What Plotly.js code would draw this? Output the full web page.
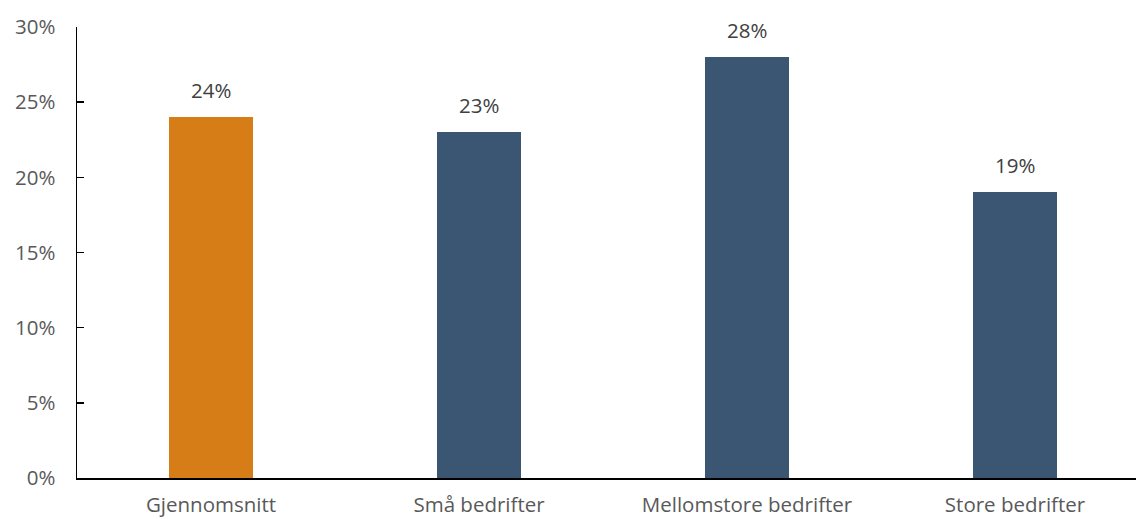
<!DOCTYPE html>
<html>
<head>
<meta charset="utf-8">
<script src="https://cdn.plot.ly/plotly-3.0.1.min.js"></script>
<style>
html,body{margin:0;padding:0;overflow:hidden;background:#fff;}
#chart{width:1149px;height:519px;}
</style>
</head>
<body>
<div id="chart"></div>
<script>
const categories = ["Gjennomsnitt", "Små bedrifter", "Mellomstore bedrifter", "Store bedrifter"];
const values = [24, 23, 28, 19];
const barColors = ["#D67D17", "#3A5673", "#3A5673", "#3A5673"];
const yTicks = [0, 5, 10, 15, 20, 25, 30];

const font = "'Open Sans', 'Noto Sans', sans-serif";

const trace = {
  type: "bar",
  x: categories,
  y: values,
  marker: {color: barColors},
  width: 0.313,
  hoverinfo: "skip"
};

const annotations = categories.map((c, i) => ({
  x: c, y: values[i], xref: "x", yref: "y",
  text: values[i] + "%",
  showarrow: false, yanchor: "bottom", yshift: 11,
  font: {family: font, size: 20.5, color: "#404040"}
}));

const layout = {
  width: 1149, height: 519,
  margin: {l: 77, r: 0, t: 27, b: 41},
  paper_bgcolor: "#fff", plot_bgcolor: "#fff",
  showlegend: false,
  bargap: 0,
  xaxis: {
    range: [-0.5, 3.5],
    showline: true, linecolor: "#000", linewidth: 1.5,
    ticks: "", showgrid: false, zeroline: false,
    tickfont: {family: font, size: 20.5, color: "#595959"},
    ticklabelstandoff: 8
  },
  yaxis: {
    range: [0, 30],
    tickvals: yTicks,
    ticktext: yTicks.map(v => v + "%"),
    showline: true, linecolor: "#000", linewidth: 1.5,
    ticks: "inside", ticklen: 7, tickwidth: 1.5, tickcolor: "#000",
    showgrid: false, zeroline: false,
    tickfont: {family: font, size: 20.5, color: "#595959"},
    ticklabelstandoff: 16
  },
  annotations: annotations
};

Plotly.newPlot("chart", [trace], layout, {displayModeBar: false, staticPlot: true});
</script>
</body>
</html>
